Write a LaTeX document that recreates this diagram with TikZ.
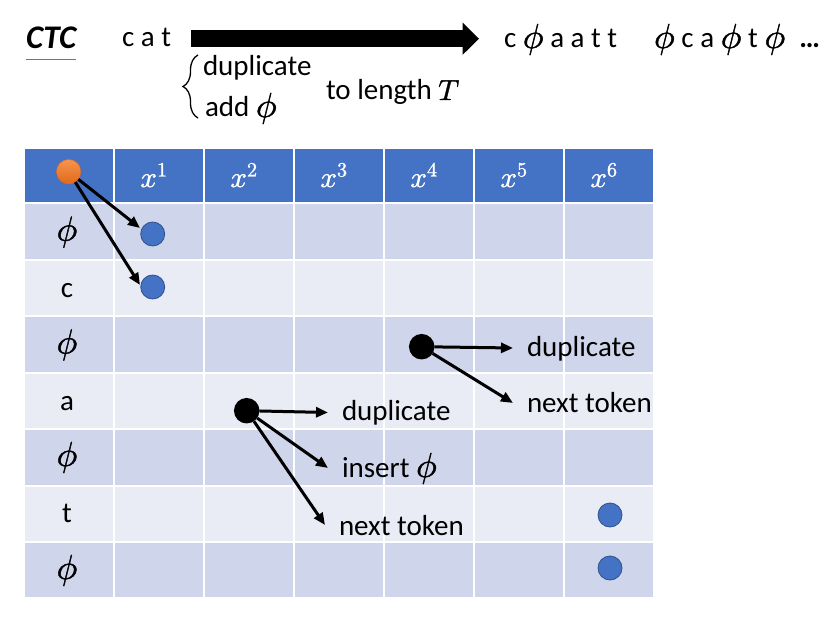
\documentclass[tikz,border=0pt]{standalone}
\usepackage{unicode-math}
\setmainfont{Carlito}
\setmathfont{Latin Modern Math}[FakeBold=1.2]
\usetikzlibrary{arrows.meta,decorations.pathreplacing,calc}
\definecolor{hdr}{HTML}{4472C4}
\definecolor{rowA}{HTML}{CFD5EA}
\definecolor{rowB}{HTML}{E9EBF5}
\definecolor{dotblue}{HTML}{4472C4}
\definecolor{dotedge}{HTML}{2F528F}
\definecolor{orangeT}{HTML}{F5944F}
\definecolor{orangeB}{HTML}{E2691A}
\newcommand{\phis}{\scalebox{1.2}{$\phi$}}
\begin{document}
\begin{tikzpicture}[x=1bp,y=-1bp,
  every node/.style={font=\fontsize{29bp}{34bp}\selectfont, inner sep=0pt, outer sep=0pt},
  cell/.style={draw=white, line width=2bp},
  arr/.style={draw=black, line width=3bp, -{Triangle[length=12bp,width=10bp]}},
  bluedot/.style={circle, fill=dotblue, draw=dotedge, line width=0.8bp, minimum size=24bp},
  blackdot/.style={circle, fill=black, minimum size=25.5bp},
  orangedot/.style={circle, top color=orangeT, bottom color=orangeB, draw=orangeB, line width=0.5bp, minimum size=24.5bp},
  lab/.style={anchor=base west},
  hlab/.style={anchor=base, text=white},
  rlab/.style={anchor=base},
]
\useasboundingbox (0,0) rectangle (835,624);
\fill[white] (0,0) rectangle (835,624);

% ---------- table ----------
\foreach \c in {0,...,6} {
  \filldraw[cell, fill=hdr] (24+90*\c,148) rectangle (114+90*\c,203.5);
  \foreach \r in {1,3,5,7} {
    \filldraw[cell, fill=rowA] (24+90*\c,203.5+56.4*\r-56.4) rectangle (114+90*\c,203.5+56.4*\r);
  }
  \foreach \r in {2,4,6} {
    \filldraw[cell, fill=rowB] (24+90*\c,203.5+56.4*\r-56.4) rectangle (114+90*\c,203.5+56.4*\r);
  }
}

% header labels
\foreach \k in {1,...,6} {
  \node[hlab] (h\k) at (64+90*\k,187) {$x^{\k}$};
}

% row labels
\node[rlab] (r1) at (67,240.7) {\phis};
\node[rlab] (r2) at (67,297) {c};
\node[rlab] (r3) at (67,353.5) {\phis};
\node[rlab] (r4) at (67,410) {a};
\node[rlab] (r5) at (67,466) {\phis};
\node[rlab] (r6) at (67,522.7) {t};
\node[rlab] (r7) at (67,579) {\phis};

% dots
\node[orangedot] (o) at (68.7,171.7) {};
\node[bluedot] (b1) at (152.7,234) {};
\node[bluedot] (b2) at (152.7,287) {};
\node[bluedot] (b3) at (610,515) {};
\node[bluedot] (b4) at (610,568) {};
\node[blackdot] (d1) at (421.7,346.7) {};
\node[blackdot] (d2) at (246.7,410.7) {};

% arrow end points
\coordinate (t1) at (140,228);
\coordinate (t2) at (140,285);
\coordinate (e1) at (513,348);
\coordinate (e2) at (513,403);
\coordinate (f1) at (328,412.5);
\coordinate (f2) at (328,468);
\coordinate (f3) at (325,525);

\draw[arr] (o) -- (t1);
\draw[arr] (o) -- (t2);
\draw[arr] (d1) -- (e1);
\draw[arr] (d1) -- (e2);
\draw[arr] (d2) -- (f1);
\draw[arr] (d2) -- (f2);
\draw[arr] (d2) -- (f3);

% labels in table
\node[lab] (l1) at (527,356) {duplicate};
\node[lab] (l2) at (527,412) {next token};
\node[lab] (l3) at (342,420) {duplicate};
\node[lab] (l4) at (342,477) {insert \phis};
\node[lab] (l5) at (339,535) {next token};

% ---------- top ----------
\node[lab, font=\fontsize{33bp}{38bp}\selectfont\bfseries\itshape] (ctc) at (26,49) {CTC};
\draw[black!55, line width=1.2bp] ($(ctc.base west)+(0,10.5)$) -- ($(ctc.base east)+(0,10.5)$);
\node[lab] (cat) at (122,47) {c a t};
\coordinate (A0) at (190.7,38.7);
\coordinate (A1) at (479,38.7);
\draw[line width=16.5bp, -{Triangle[length=16.5bp,width=31.5bp]}] (A0) -- (A1);
\node[lab] (out1) at (504,48) {c \phis{} a a t t};
\node[lab] (out2) at (654,48) {\phis{} c a \phis{} t \phis\hspace{14bp}\textbf{…}};

\draw[decorate, decoration={brace, amplitude=15bp}, line width=1.3bp] (198,118) -- (198,55);
\node[lab] (dup) at (203,76) {duplicate};
\node[lab] (add) at (205,117) {add \phis};
\node[lab] (len) at (326,100) {to length $T$};
\end{tikzpicture}
\end{document}
